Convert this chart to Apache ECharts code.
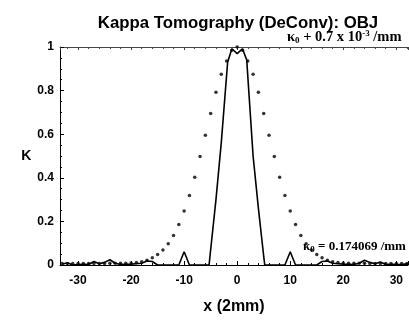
<!DOCTYPE html>
<html>
<head>
<meta charset="utf-8">
<script src="https://cdn.jsdelivr.net/npm/echarts@6/dist/echarts.min.js"></script>
<style>html,body{margin:0;padding:0;background:#fff;}#c{width:409px;height:320px;}</style>
</head>
<body>
<div id="c"></div>
<script>
// Dotted series: x positions and values (reference kappa profile)
const dotX = [-33,-32,-31,-30,-29,-28,-27,-26,-25,-24,-23,-22,-21,-20,-19,-18,-17,-16,-15,-14,-13,-12,-11,-10,-9,-8,-7,-6,-5,-4,-3,-2,-1,0,1,2,3,4,5,6,7,8,9,10,11,12,13,14,15,16,17,18,19,20,21,22,23,24,25,26,27,28,29,30,31,32];
const dotY = [0.007,0.007,0.007,0.007,0.007,0.007,0.007,0.007,0.007,0.008,0.008,0.008,0.008,0.009,0.011,0.015,0.022,0.033,0.048,0.069,0.098,0.135,0.186,0.248,0.319,0.402,0.498,0.595,0.695,0.792,0.875,0.936,0.985,1.0,0.985,0.936,0.875,0.792,0.695,0.595,0.498,0.402,0.319,0.248,0.186,0.135,0.098,0.069,0.048,0.033,0.022,0.015,0.011,0.009,0.008,0.008,0.008,0.008,0.007,0.007,0.007,0.007,0.007,0.007,0.007,0.007];
// Solid series: deconvolved profile
const lineX = [-33,-32,-31,-30,-29,-28,-27,-26,-25,-24,-23,-22,-21,-20,-19,-18,-17,-16,-15,-11,-10,-9,-5.3,-5,-4,-3,-1.8,-1,0,1,1.8,3,4,5,5.2,9,10,11,15,16,17,18,19,20,21,22,23,24,25,26,27,28,29,30,31,32];
const lineY = [0.003,0.01,0,0.002,0.003,0.002,0.016,0.006,0.012,0.024,0.008,0.002,0.003,0.004,0.006,0.008,0.018,0.016,0,0,0.061,0,0,0.07,0.3,0.56,0.93,0.992,0.97,0.992,0.94,0.5,0.26,0.04,0,0,0.061,0,0,0.016,0.018,0.008,0.006,0.004,0.003,0.002,0.008,0.022,0.012,0.006,0.014,0.002,0.003,0.002,0.002,0.005];
const xTitle = 'x (2mm)';
const yTitle = 'K';
const chartTitle = 'Kappa Tomography (DeConv): OBJ';

const dotData = dotX.map((x, i) => [x, dotY[i]]);
const lineData = lineX.map((x, i) => [x, lineY[i]]);

const chart = echarts.init(document.getElementById('c'), null, {renderer: 'canvas'});
const lab = {fontFamily: 'Liberation Sans, Arial, sans-serif', fontWeight: 'bold', fontSize: 12, color: '#000'};
const serif = 'Liberation Serif, serif';
chart.setOption({
  animation: false,
  backgroundColor: '#fff',
  title: {text: chartTitle, left: 233, top: 10, textAlign: 'center',
    textStyle: {fontFamily: 'Liberation Sans, Arial, sans-serif', fontWeight: 'bold', fontSize: 16.8, color: '#000'}},
  grid: {left: 60, right: 1, top: 47, bottom: 52},
  xAxis: [{
    type: 'value', min: -33.4, max: 32.2, splitNumber: 6, position: 'bottom',
    axisLine: {show: true, onZero: false, lineStyle: {color: '#000', width: 1}},
    axisTick: {show: true, inside: true, length: 4, lineStyle: {color: '#000'}},
    minorTick: {show: true, splitNumber: 5, length: 2, lineStyle: {color: '#000'}},
    splitLine: {show: false},
    axisLabel: Object.assign({margin: 10, showMinLabel: false, showMaxLabel: false}, lab),
    name: xTitle, nameLocation: 'middle', nameGap: 34,
    nameTextStyle: {fontFamily: 'Liberation Sans, Arial, sans-serif', fontWeight: 'bold', fontSize: 16, color: '#000'}
  }, {
    type: 'value', min: -33.4, max: 32.2, splitNumber: 6, position: 'top',
    axisLine: {show: true, onZero: false, lineStyle: {color: '#444', width: 1}},
    axisTick: {show: true, inside: true, length: 3, lineStyle: {color: '#444'}},
    minorTick: {show: true, splitNumber: 5, length: 2, lineStyle: {color: '#444'}},
    splitLine: {show: false},
    axisLabel: {show: false}
  }],
  yAxis: {
    type: 'value', min: 0, max: 1, interval: 0.2,
    axisLine: {show: true, onZero: false, lineStyle: {color: '#000', width: 1}},
    axisTick: {show: true, inside: true, length: 4, lineStyle: {color: '#000'}},
    minorTick: {show: true, splitNumber: 4, length: 2, lineStyle: {color: '#000'}},
    splitLine: {show: false},
    axisLabel: Object.assign({margin: 6}, lab),
    name: yTitle, nameLocation: 'middle', nameGap: 25, nameRotate: 0,
    nameTextStyle: {fontFamily: 'Liberation Sans, Arial, sans-serif', fontWeight: 'bold', fontSize: 14, color: '#000'}
  },
  series: [{
    type: 'scatter', data: dotData, symbol: 'circle', symbolSize: 3.5,
    itemStyle: {color: '#000'}, silent: true, z: 3
  }, {
    type: 'line', data: lineData, showSymbol: false, clip: true,
    lineStyle: {color: '#000', width: 1.6}, silent: true, z: 4
  }],
  graphic: [{
    type: 'text', left: 287, top: 29,
    style: {
      text: '{k|κ}{s|0}{b| + 0.7 x 10}{p|-3}{b| /mm}',
      rich: {
        k: {fontFamily: serif, fontSize: 14.5, fontWeight: 'bold', fill: '#000', lineHeight: 16, verticalAlign: 'middle'},
        s: {fontFamily: serif, fontSize: 9, fontWeight: 'bold', fill: '#000', lineHeight: 16, verticalAlign: 'bottom'},
        b: {fontFamily: serif, fontSize: 14.5, fontWeight: 'bold', fill: '#000', lineHeight: 16, verticalAlign: 'middle'},
        p: {fontFamily: serif, fontSize: 9, fontWeight: 'bold', fill: '#000', lineHeight: 16, verticalAlign: 'top'}
      }
    }
  }, {
    type: 'text', left: 303, top: 240,
    style: {
      text: '{k|κ}{s|0}{b| = 0.174069 /mm}',
      rich: {
        k: {fontFamily: serif, fontSize: 13, fontWeight: 'bold', fill: '#000', lineHeight: 16, verticalAlign: 'middle'},
        s: {fontFamily: serif, fontSize: 9, fontWeight: 'bold', fill: '#000', lineHeight: 16, verticalAlign: 'bottom'},
        b: {fontFamily: serif, fontSize: 13, fontWeight: 'bold', fill: '#000', lineHeight: 16, verticalAlign: 'middle'}
      }
    }
  }]
});
</script>
</body>
</html>
